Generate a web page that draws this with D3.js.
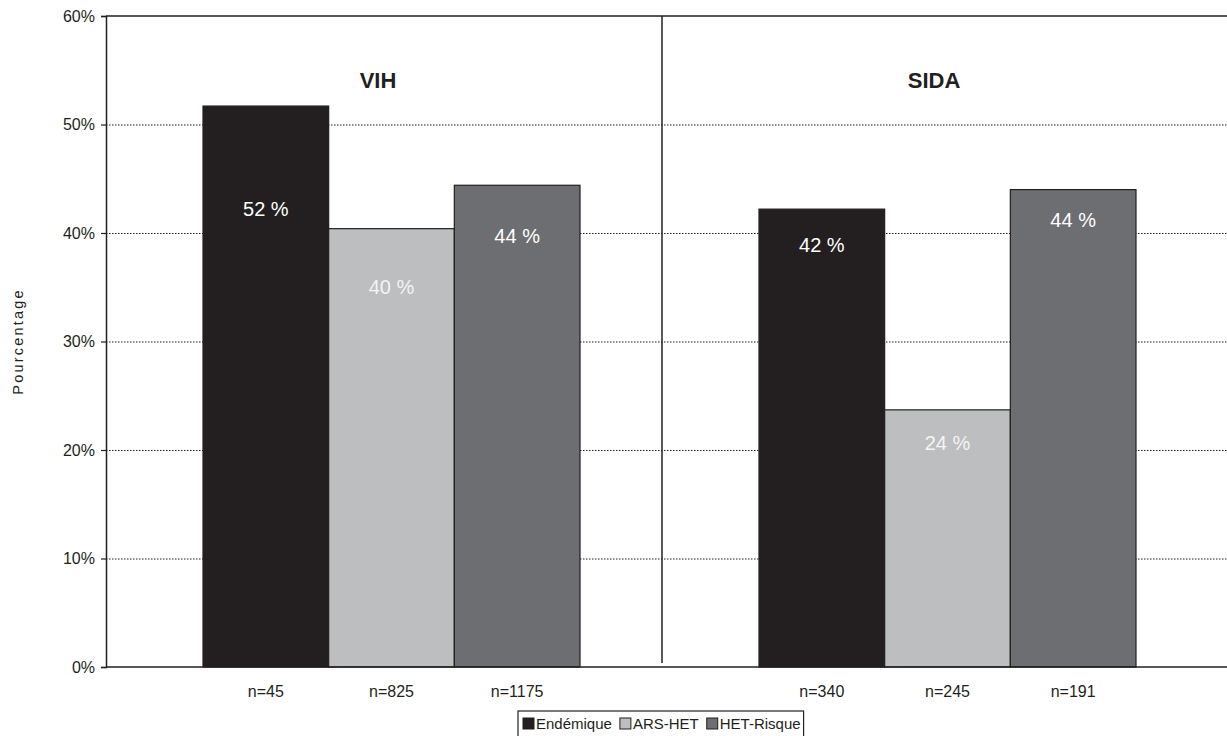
<!DOCTYPE html>
<html>
<head>
<meta charset="utf-8">
<script src="https://cdn.jsdelivr.net/npm/d3@7"></script>
<style>
  html, body { margin: 0; padding: 0; background: #fff; }
  svg { display: block; font-family: "Liberation Sans", Arial, sans-serif; }
</style>
</head>
<body>
<svg id="chart" width="1227" height="736"></svg>
<script>
// Groups, series and values (percent)
const groups = ["VIH", "SIDA"];
const series = ["Endémique", "ARS-HET", "HET-Risque"];
const vihValues = [51.7, 40.4, 44.4];
const sidaValues = [42.2, 23.7, 44.0];
const vihCounts = ["n=45", "n=825", "n=1175"];
const sidaCounts = ["n=340", "n=245", "n=191"];
const yTicks = [0, 10, 20, 30, 40, 50, 60];

const colors = { "Endémique": "#231f20", "ARS-HET": "#bcbec0", "HET-Risque": "#6d6e71" };
// how far below each bar top its value label sits (px)
const labelDrop = { "VIH": [103, 58, 51], "SIDA": [36, 33, 30] };

const W = 1227, H = 736;
const plotLeft = 106, plotTop = 16, plotBottom = 667, plotRight = 1218;

const rows = [];
groups.forEach((g, gi) => {
  const vals = gi === 0 ? vihValues : sidaValues;
  const counts = gi === 0 ? vihCounts : sidaCounts;
  series.forEach((s, si) => rows.push({ group: g, series: s, value: vals[si], count: counts[si], drop: labelDrop[g][si] }));
});

const svg = d3.select("#chart");

const x0 = d3.scaleBand().domain(groups).range([plotLeft, plotRight]).padding(0);
const x1 = d3.scaleBand().domain(series).range([97, 97 + 377]).padding(0);
const y = d3.scaleLinear().domain([0, 60]).range([plotBottom, plotTop]);

// dotted gridlines
svg.append("g")
  .selectAll("line")
  .data(yTicks.filter(t => t > 0 && t < 60))
  .join("line")
  .attr("x1", plotLeft).attr("x2", W)
  .attr("y1", d => y(d) + 0.5).attr("y2", d => y(d) + 0.5)
  .attr("stroke", "#231f20").attr("stroke-width", 1.2)
  .attr("stroke-dasharray", "1.5,1.5");

// top frame line
svg.append("line")
  .attr("x1", plotLeft).attr("x2", W)
  .attr("y1", y(60)).attr("y2", y(60))
  .attr("stroke", "#231f20").attr("stroke-width", 1.5);

// divider between groups
svg.append("line")
  .attr("x1", x0("SIDA")).attr("x2", x0("SIDA"))
  .attr("y1", y(60)).attr("y2", plotBottom - 4)
  .attr("stroke", "#231f20").attr("stroke-width", 1.5);

// bars
svg.append("g")
  .selectAll("rect")
  .data(rows)
  .join("rect")
  .attr("x", d => x0(d.group) + x1(d.series))
  .attr("y", d => y(d.value))
  .attr("width", x1.bandwidth())
  .attr("height", d => y(0) - y(d.value))
  .attr("fill", d => colors[d.series])
  .attr("stroke", "#231f20").attr("stroke-width", 1.2);

// value labels
svg.append("g")
  .selectAll("text")
  .data(rows)
  .join("text")
  .attr("x", d => x0(d.group) + x1(d.series) + x1.bandwidth() / 2)
  .attr("y", d => y(d.value) + d.drop)
  .attr("dy", "0.35em")
  .attr("text-anchor", "middle")
  .attr("fill", d => d.series === "ARS-HET" ? "#f4f4f4" : "#ffffff")
  .attr("font-size", 20)
  .text(d => d3.format(".0f")(d.value) + " %");

// count labels
svg.append("g")
  .selectAll("text")
  .data(rows)
  .join("text")
  .attr("x", d => x0(d.group) + x1(d.series) + x1.bandwidth() / 2)
  .attr("y", 697)
  .attr("text-anchor", "middle")
  .attr("fill", "#231f20")
  .attr("font-size", 16)
  .text(d => d.count);

// group titles
svg.append("g")
  .selectAll("text")
  .data(groups)
  .join("text")
  .attr("x", d => x0(d) + x0.bandwidth() / 2 - 6)
  .attr("y", 88)
  .attr("text-anchor", "middle")
  .attr("font-weight", "bold")
  .attr("font-size", 22)
  .attr("fill", "#231f20")
  .text(d => d);

// y axis
const yAxis = d3.axisLeft(y)
  .tickValues(yTicks)
  .tickSize(5)
  .tickPadding(6)
  .tickFormat(d => d + "%");
const ga = svg.append("g").attr("transform", `translate(${plotLeft},0)`).call(yAxis);
ga.select(".domain").attr("stroke", "#231f20").attr("stroke-width", 1.5);
ga.selectAll(".tick line").attr("stroke", "#231f20").attr("stroke-width", 1.2);
ga.selectAll(".tick text")
  .attr("font-size", 16)
  .attr("font-family", "Liberation Sans, Arial, sans-serif")
  .attr("fill", "#231f20");

// baseline
svg.append("line")
  .attr("x1", plotLeft).attr("x2", W)
  .attr("y1", plotBottom).attr("y2", plotBottom)
  .attr("stroke", "#231f20").attr("stroke-width", 1.5);

// y axis title
svg.append("text")
  .attr("transform", `translate(23,${(plotTop + plotBottom) / 2}) rotate(-90)`)
  .attr("text-anchor", "middle")
  .attr("font-size", 14.5)
  .attr("letter-spacing", 2.2)
  .attr("fill", "#231f20")
  .text("Pourcentage");

// legend
const legend = svg.append("g").attr("transform", "translate(518,711)");
const legendBox = legend.append("rect")
  .attr("fill", "#fff").attr("stroke", "#231f20").attr("stroke-width", 1.2);
let lx = 5;
series.forEach(s => {
  legend.append("rect")
    .attr("x", lx).attr("y", 7)
    .attr("width", 11).attr("height", 11)
    .attr("fill", colors[s]).attr("stroke", "#231f20").attr("stroke-width", 1);
  const t = legend.append("text")
    .attr("x", lx + 13).attr("y", 18)
    .attr("font-size", 15)
    .attr("fill", "#231f20")
    .text(s);
  lx += 13 + t.node().getComputedTextLength() + 8;
});
legendBox.attr("x", 0).attr("y", 0).attr("width", lx - 5).attr("height", 30);
</script>
</body>
</html>
